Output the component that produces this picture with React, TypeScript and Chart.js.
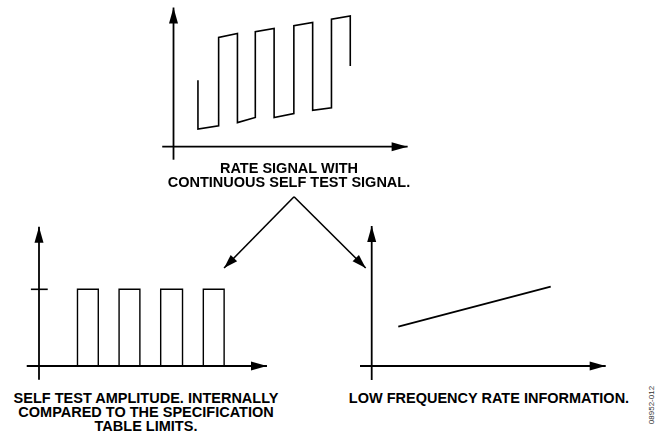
import React, { useEffect, useRef } from "react";
import { Chart, registerables } from "chart.js";

Chart.register(...registerables);

// ---- Top panel: rate signal with continuous self-test square wave ----
const rateTime = [1.3, 1.3, 2.4, 2.4, 3.4, 3.4, 4.35, 4.35, 5.35, 5.35, 6.4, 6.4, 7.4, 7.4, 8.4, 8.4, 9.4, 9.4];
const rateValue = [5.1, 1.35, 1.6, 8.4, 8.7, 1.85, 2.25, 8.85, 9.1, 2.25, 2.55, 9.3, 9.55, 2.8, 3.0, 9.8, 10.05, 6.2];

// connector arrows from the top caption to the two lower panels (top panel units)
const splitStart = [6.41, -3.85];
const splitLeftEnd = [2.69, -9.33];
const splitRightEnd = [10.22, -9.33];

// ---- Bottom-left panel: self test amplitude pulses ----
const pulseTime = [0.85, 1.85, 1.85, 2.85, 2.85, 3.85, 3.85, 4.85, 4.85, 5.85, 5.85, 6.9, 6.9, 7.9, 7.9, 8.9, 8.9, 10.0];
const pulseValue = [0, 0, 1, 1, 0, 0, 1, 1, 0, 0, 1, 1, 0, 0, 1, 1, 0, 0];
const limitTickX = [-0.39, 0.42];
const limitLevel = 1;

// ---- Bottom-right panel: low frequency rate information ----
const lowFreqTime = [1.33, 8.95];
const lowFreqValue = [1.97, 3.97];

// ---- captions ----
const topCaption = ["RATE SIGNAL WITH", "CONTINUOUS SELF TEST SIGNAL."];
const leftCaption = ["SELF TEST AMPLITUDE. INTERNALLY", "COMPARED TO THE SPECIFICATION", "TABLE LIMITS."];
const rightCaption = ["LOW FREQUENCY RATE INFORMATION."];
const figureId = "08952-012";

const INK = "#000000";
const FONT = '"Liberation Sans", Arial, Helvetica, sans-serif';

function head(ctx: CanvasRenderingContext2D, x0: number, y0: number, x1: number, y1: number, len: number, wid: number) {
  const dx = x1 - x0;
  const dy = y1 - y0;
  const d = Math.hypot(dx, dy) || 1;
  const ux = dx / d;
  const uy = dy / d;
  const bx = x1 - ux * len;
  const by = y1 - uy * len;
  ctx.beginPath();
  ctx.moveTo(x1, y1);
  ctx.lineTo(bx - uy * wid / 2, by + ux * wid / 2);
  ctx.lineTo(bx + uy * wid / 2, by - ux * wid / 2);
  ctx.closePath();
  ctx.fill();
}

const sketchAxes = {
  id: "sketchAxes",
  afterDatasetsDraw(chart: any, _args: any, opts: any) {
    const { ctx } = chart;
    const xs = chart.scales.x;
    const ys = chart.scales.y;
    ctx.save();
    ctx.strokeStyle = INK;
    ctx.fillStyle = INK;
    ctx.lineWidth = opts.lineWidth;
    const axis = (x0: number, y0: number, x1: number, y1: number) => {
      ctx.beginPath();
      ctx.moveTo(x0, y0);
      ctx.lineTo(x1, y1);
      ctx.stroke();
      head(ctx, x0, y0, x1, y1, opts.headLen, opts.headWidth);
    };
    const y0 = ys.getPixelForValue(0);
    const x0 = xs.getPixelForValue(0);
    axis(xs.getPixelForValue(opts.xFrom), y0, xs.getPixelForValue(opts.xTo), y0);
    axis(x0, ys.getPixelForValue(opts.yFrom), x0, ys.getPixelForValue(opts.yTo));
    chart.data.datasets.forEach((ds: any, i: number) => {
      if (!ds.arrowHead) return;
      const pts = chart.getDatasetMeta(i).data;
      const a = pts[pts.length - 2];
      const b = pts[pts.length - 1];
      head(ctx, a.x, a.y, b.x, b.y, 14, 9);
    });
    ctx.restore();
  },
};

function pts(xs: number[], ys: number[]) {
  return xs.map((x, i) => ({ x, y: ys[i] }));
}

function lineDs(data: { x: number; y: number }[], extra: any = {}) {
  return {
    data,
    borderColor: INK,
    borderWidth: 1.6,
    pointRadius: 0,
    tension: 0,
    fill: false,
    borderJoinStyle: "miter",
    ...extra,
  };
}

type PanelProps = {
  left: number;
  top: number;
  width: number;
  height: number;
  datasets: any[];
  xRange: [number, number];
  yRange: [number, number];
  axes: { xFrom: number; xTo: number; yFrom: number; yTo: number };
};

function Panel(p: PanelProps) {
  const ref = useRef<HTMLCanvasElement | null>(null);
  useEffect(() => {
    if (!ref.current) return;
    const chart = new Chart(ref.current, {
      type: "line",
      data: { datasets: p.datasets },
      options: {
        animation: false,
        responsive: false,
        maintainAspectRatio: false,
        layout: { padding: 0 },
        events: [],
        scales: {
          x: { type: "linear", min: p.xRange[0], max: p.xRange[1], display: false, bounds: "data" },
          y: { type: "linear", min: p.yRange[0], max: p.yRange[1], display: false, bounds: "data" },
        },
        plugins: {
          legend: { display: false },
          tooltip: { enabled: false },
          sketchAxes: { ...p.axes, lineWidth: 1.8, headLen: 16, headWidth: 9 },
        } as any,
      },
      plugins: [sketchAxes as any],
    } as any);
    return () => chart.destroy();
  }, []);
  return (
    <canvas
      ref={ref}
      width={p.width}
      height={p.height}
      style={{ position: "absolute", left: p.left, top: p.top, width: p.width, height: p.height }}
    />
  );
}

function Caption({ lines, cx, top }: { lines: string[]; cx: number; top: number }) {
  return (
    <div
      style={{
        position: "absolute",
        left: cx - 200,
        top,
        width: 400,
        textAlign: "center",
        fontFamily: FONT,
        fontWeight: "bold",
        fontSize: 14.5,
        lineHeight: "14px",
        color: INK,
        whiteSpace: "nowrap",
      }}
    >
      {lines.map((l, i) => (
        <div key={i}>{l}</div>
      ))}
    </div>
  );
}

export default function App() {
  return (
    <div
      style={{
        position: "fixed",
        left: 0,
        top: 0,
        width: 667,
        height: 435,
        background: "#ffffff",
        overflow: "hidden",
      }}
    >
      <Panel
        left={150}
        top={0}
        width={280}
        height={280}
        xRange={[-1.25, 13.64]}
        yRange={[-10.25, 11.28]}
        axes={{ xFrom: -0.6, xTo: 12.45, yFrom: -1.0, yTo: 10.7 }}
        datasets={[
          lineDs(pts(rateTime, rateValue)),
          lineDs(pts([splitStart[0], splitLeftEnd[0]], [splitStart[1], splitLeftEnd[1]]), { arrowHead: true }),
          lineDs(pts([splitStart[0], splitRightEnd[0]], [splitStart[1], splitRightEnd[1]]), { arrowHead: true }),
        ]}
      />
      <Panel
        left={0}
        top={215}
        width={290}
        height={175}
        xRange={[-1.875, 12.067]}
        yRange={[-0.313, 1.969]}
        axes={{ xFrom: -0.59, xTo: 10.96, yFrom: -0.18, yTo: 1.816 }}
        datasets={[
          lineDs(pts(pulseTime, pulseValue), { borderWidth: 1.4 }),
          lineDs(pts(limitTickX, [limitLevel, limitLevel]), { borderWidth: 1.6 }),
        ]}
      />
      <Panel
        left={340}
        top={215}
        width={290}
        height={175}
        xRange={[-1.585, 12.915]}
        yRange={[-1.2, 7.55]}
        axes={{ xFrom: -0.585, xTo: 11.7, yFrom: -0.7, yTo: 7.0 }}
        datasets={[lineDs(pts(lowFreqTime, lowFreqValue), { borderWidth: 1.8 })]}
      />
      <Caption lines={topCaption} cx={289} top={161} />
      <Caption lines={leftCaption} cx={146} top={391} />
      <Caption lines={rightCaption} cx={489} top={391} />
      <div
        style={{
          position: "absolute",
          left: 652 - 30,
          top: 405 - 6,
          width: 60,
          height: 12,
          lineHeight: "12px",
          textAlign: "center",
          fontFamily: FONT,
          fontSize: 8,
          color: "#333333",
          transform: "rotate(-90deg)",
          whiteSpace: "nowrap",
        }}
      >
        {figureId}
      </div>
    </div>
  );
}
